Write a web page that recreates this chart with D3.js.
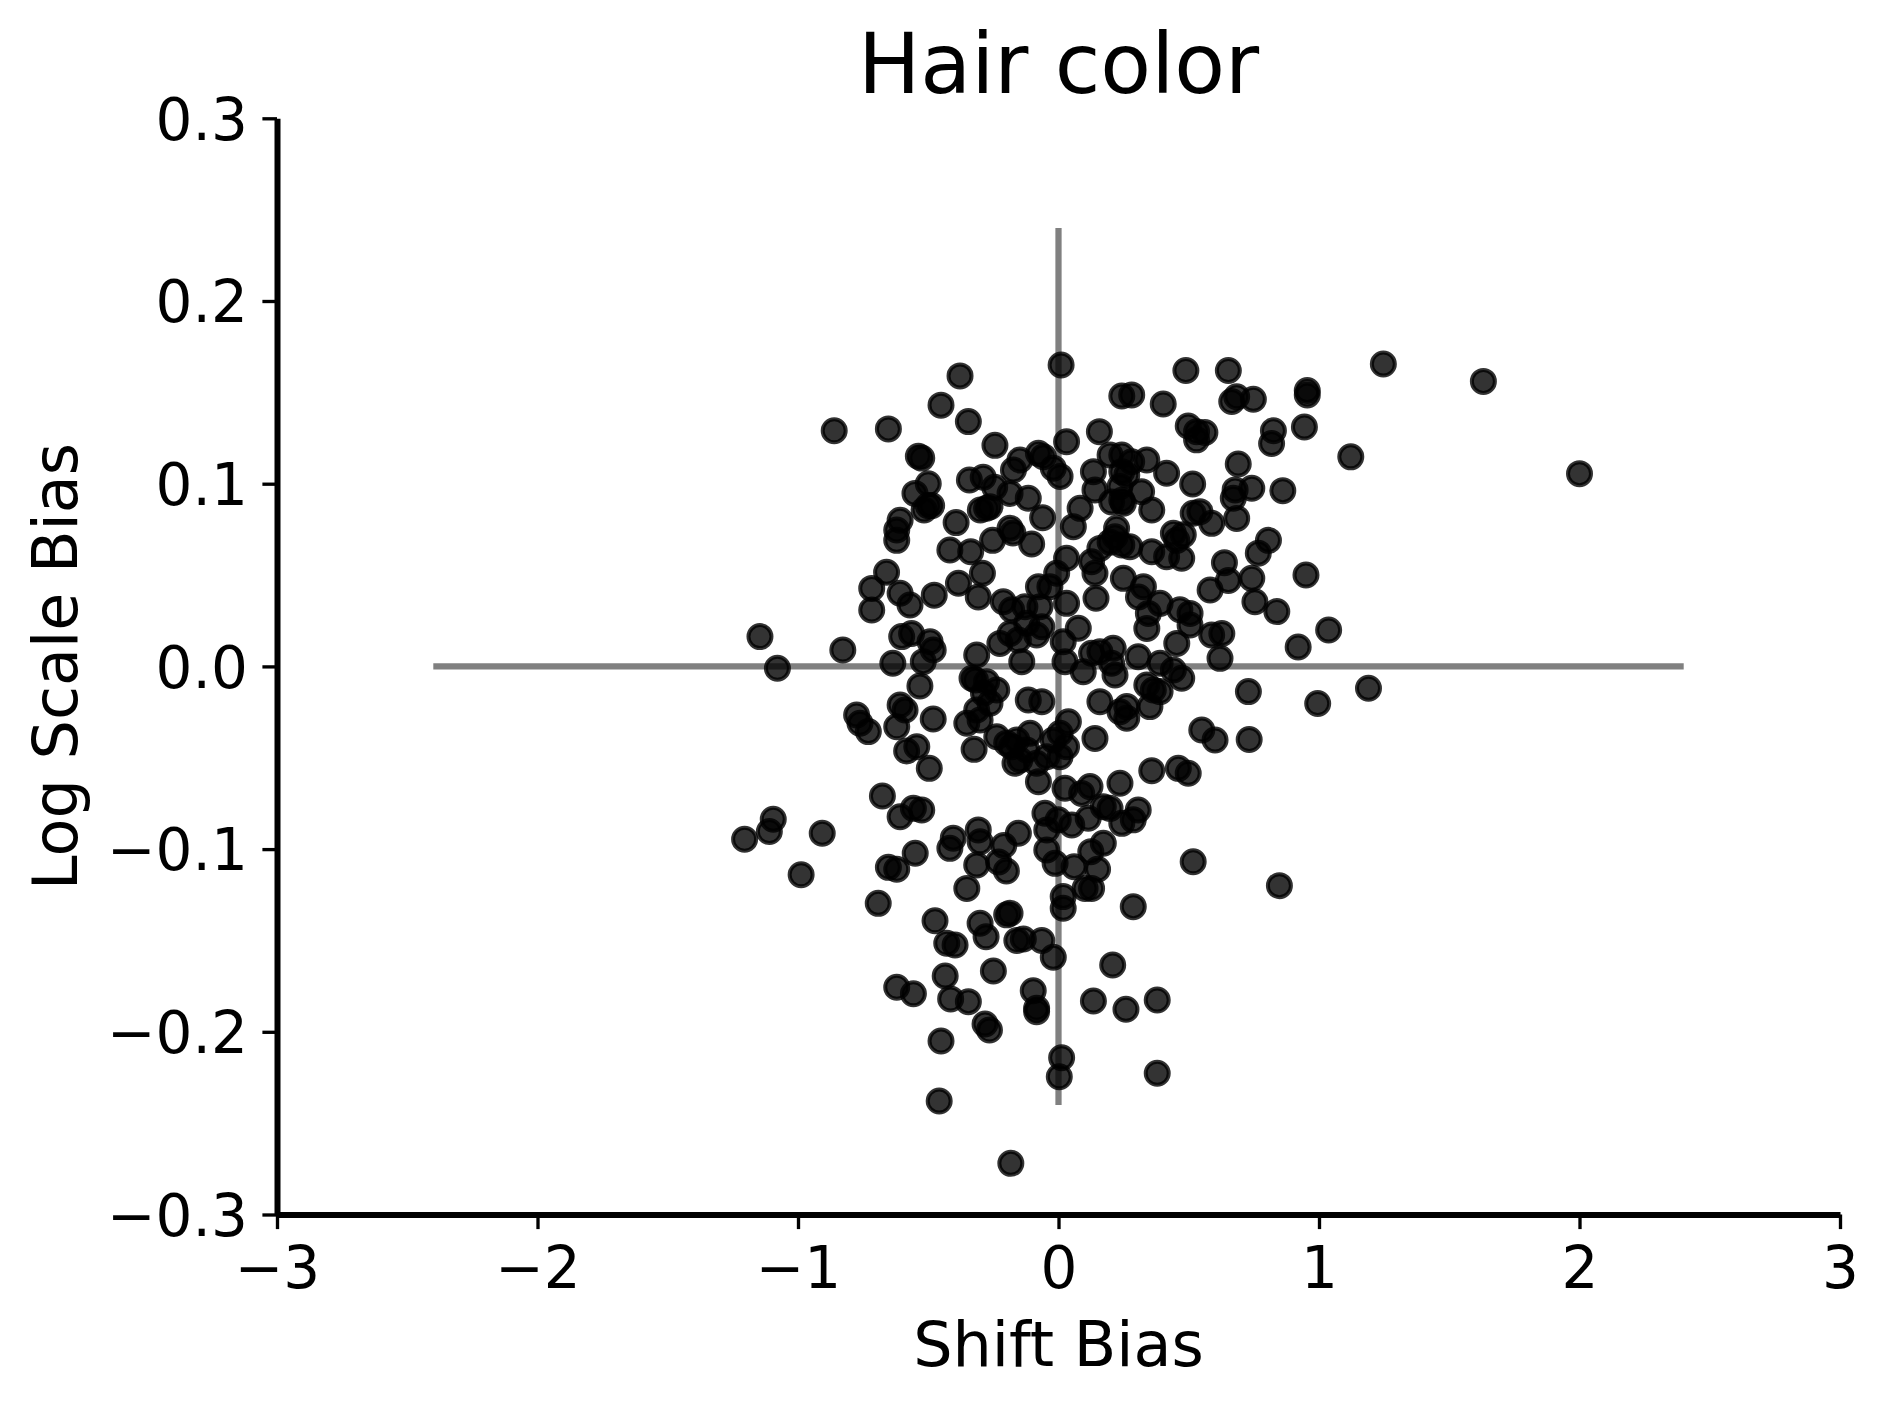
<!DOCTYPE html>
<html>
<head>
<meta charset="utf-8">
<script src="https://cdn.jsdelivr.net/npm/d3@7"></script>
<style>
  body { margin: 0; background: #fff; }
  text { font-family: "DejaVu Sans", sans-serif; fill: #000; }
</style>
</head>
<body>
<script>
const width = 1889;
const height = 1407;

// shift bias (x) and log scale bias (y)
const shiftBias = [
  0.01, 1.247, 1.631, 0.489, 0.652, -0.378, 0.243, 0.281, 0.402, 0.665,
  0.684, 0.748, 0.955, 0.955, -0.451, -0.346, -0.861, -0.653, 0.157, 0.498,
  0.530, 0.562, 0.530, 0.825, 0.818, 0.944, 0.031, -0.244, 1.122, 2.0,
  -0.538, -0.525, -0.148, -0.173, -0.077, -0.058, -0.02, 0.006, 0.198, 0.243,
  0.281, 0.339, 0.134, 0.243, 0.262, 0.415, 0.515, 0.690, 0.140, 0.236,
  0.243, 0.204, 0.249, 0.319, 0.358, 0.083, 0.057, -0.342, -0.289, -0.500,
  -0.551, -0.50, -0.487, -0.516, -0.245, -0.186, -0.116, -0.30, -0.276, -0.263,
  -0.608, -0.621, -0.621, -0.393, -0.186, -0.175, -0.061, -0.417, -0.337, -0.253,
  -0.103, 0.223, 0.217, 0.198, 0.243, 0.159, 0.274, 0.358, 0.415, 0.473,
  0.454, 0.479, 0.441, 0.517, 0.543, 0.588, 0.678, 0.671, 0.742, 0.684,
  0.861, 0.806, 0.767, 0.637, 0.031, 0.127, -0.007, 0.140, 0.950, -0.292,
  -0.660,
  -0.384, -0.717, -0.717, -0.608, -0.570, -0.477, -0.308, -0.212, -0.18, -0.129,
  -0.071, -0.077, -0.033, 0.031, 0.249, 0.326, 0.307, 0.144, 0.390, 0.466,
  0.505, 0.345, 0.582, 0.652, 0.742, 0.754, 0.838, 1.037, 0.92, -1.146,
  -1.079, -0.828, -0.602, -0.564, -0.493, -0.481, -0.636, -0.519, -0.532, -0.314,
  -0.225, -0.186, -0.154, -0.084, -0.064, -0.122, -0.141, 0.076, 0.018, 0.025,
  0.095, 0.127, 0.159, 0.21, 0.217, 0.204, 0.306, 0.339, 0.454, 0.505,
  0.588, 0.627, 0.62, 0.39, 0.441, 0.473,
  0.364, 0.39, 0.351, 0.339, 0.262, 0.262, 0.236, 0.159, -0.116, -0.064,
  0.729, 0.995, 1.19, 0.550, 0.601, 0.732, 0.358, 0.46, 0.498, 0.140,
  0.038, 0.006, -0.02, 0.031, 0.006, -0.045, -0.109, -0.16, -0.18, -0.122,
  -0.148, -0.084, -0.167, -0.332, -0.319, -0.276, -0.237, -0.288, -0.263, -0.314,
  -0.352, -0.301, -0.324, -0.237, -0.199, -0.608, -0.589, -0.621, -0.481, -0.775,
  -0.762, -0.730, -0.583, -0.544, -0.496, -0.077, 0.025, 0.089, 0.121, 0.236,
  -0.676, -0.608, -0.557, -0.525, -0.052, -0.001, 0.051, 0.114, 0.172, 0.198,
  0.243, 0.287, 0.306, -0.045, -1.095, -1.110, -1.205, -0.907, -0.988, -0.653,
  -0.621, -0.55, -0.404, -0.417, -0.308, -0.301, -0.314, -0.21, -0.23, -0.2,
  -0.154, -0.045, -0.013, 0.060, 0.124, 0.172, 0.150, 0.102, 0.127, 0.018,
  0.517, 0.848, 0.287, -0.692, -0.352, -0.474, -0.429, -0.397, -0.301, -0.278,
  -0.199, -0.186, -0.16, 0.018, -0.135, -0.064, -0.02, 0.208, -0.435, -0.25,
  -0.621, -0.557, -0.414, -0.346, -0.097, -0.084, -0.084, 0.134, 0.259, 0.379,
  -0.282, -0.265, -0.451, 0.012, 0.003, 0.379, -0.458, -0.183
];

const logScaleBias = [
  0.165, 0.1655, 0.156, 0.162, 0.162, 0.159, 0.148, 0.1486, 0.1436, 0.145,
  0.1476, 0.1462, 0.151, 0.1486, 0.143, 0.134, 0.129, 0.130, 0.1285, 0.1316,
  0.1285, 0.128, 0.124, 0.129, 0.122, 0.131, 0.123, 0.121, 0.1147, 0.1055,
  0.115, 0.114, 0.113, 0.1075, 0.1166, 0.1148, 0.1085, 0.104, 0.1157, 0.1157,
  0.112, 0.113, 0.1066, 0.1066, 0.1048, 0.1057, 0.0998, 0.1108, 0.0966, 0.0984,
  0.091, 0.090, 0.0893, 0.0956, 0.0856, 0.0865, 0.0765, 0.102, 0.1035, 0.100,
  0.0947, 0.088, 0.088, 0.0856, 0.098, 0.0947, 0.092, 0.0856, 0.0866, 0.0874,
  0.080, 0.0747, 0.069, 0.0787, 0.0756, 0.073, 0.0814, 0.0637, 0.0628, 0.069,
  0.067, 0.0756, 0.071, 0.068, 0.0665, 0.0646, 0.0655, 0.0628, 0.060, 0.0592,
  0.069, 0.072, 0.0729, 0.0838, 0.0847, 0.0783, 0.0966, 0.092, 0.0975, 0.081,
  0.0962, 0.069, 0.062, 0.0568, 0.0592, 0.0573, 0.051, 0.051, 0.050, 0.051,
  0.0515,
  0.0455, 0.0427, 0.0309, 0.040, 0.0336, 0.039, 0.038, 0.0354, 0.031, 0.0327,
  0.0327, 0.0436, 0.0436, 0.0345, 0.0482, 0.0436, 0.038, 0.0373, 0.0345, 0.031,
  0.029, 0.029, 0.0418, 0.047, 0.0482, 0.0354, 0.030, 0.0199, 0.0106, 0.0163,
  -0.001, 0.009, 0.0163, 0.018, 0.0135, 0.009, 0.0017, 0.0026, -0.0107, 0.0062,
  0.0126, 0.018, 0.0145, 0.0172, 0.0217, 0.0236, 0.0026, 0.0209, 0.0135, 0.0026,
  -0.0029, 0.0072, 0.008, 0.0099, -0.0047, 0.0017, 0.0053, 0.0208, 0.0126, 0.0227,
  0.0172, 0.018, 0.0044, 0.0017, -0.002, -0.0065,
  -0.0129, -0.0138, -0.022, -0.0102, -0.022, -0.0284, -0.0248, -0.0193, -0.0184, -0.0193,
  -0.0138, -0.0203, -0.012, -0.0348, -0.0403, -0.040, -0.0571, -0.0558, -0.0585, -0.0394,
  -0.0303, -0.0366, -0.0403, -0.044, -0.0494, -0.0494, -0.0366, -0.0403, -0.044, -0.0458,
  -0.0512, -0.053, -0.053, -0.0065, -0.0074, -0.0084, -0.0129, -0.0147, -0.0202, -0.0239,
  -0.0311, -0.0293, -0.0454, -0.0385, -0.042, -0.0211, -0.0239, -0.033, -0.0288, -0.0266,
  -0.0311, -0.0357, -0.0463, -0.044, -0.0558, -0.0631, -0.0667, -0.0695, -0.0658, -0.064,
  -0.0709, -0.0823, -0.0777, -0.0786, -0.0804, -0.084, -0.0868, -0.0831, -0.0768, -0.0777,
  -0.0859, -0.084, -0.0786, -0.0895, -0.0837, -0.0904, -0.0946, -0.0913, -0.114, -0.110,
  -0.111, -0.1023, -0.094, -0.0996, -0.0895, -0.096, -0.1087, -0.098, -0.107, -0.112,
  -0.0913, -0.1005, -0.1078, -0.1096, -0.1014, -0.0968, -0.111, -0.1215, -0.1215, -0.126,
  -0.1069, -0.120, -0.1315, -0.1297, -0.1215, -0.1392, -0.1515, -0.1525, -0.1406, -0.148,
  -0.136, -0.1351, -0.150, -0.1324, -0.1492, -0.150, -0.1592, -0.1634, -0.1695, -0.1667,
  -0.1756, -0.1792, -0.182, -0.1835, -0.1775, -0.1871, -0.189, -0.1831, -0.1877, -0.1826,
  -0.1957, -0.199, -0.205, -0.2142, -0.2246, -0.2227, -0.2379, -0.272
];

const xTicks = [-3, -2, -1, 0, 1, 2, 3];
const yTicks = [-0.3, -0.2, -0.1, 0.0, 0.1, 0.2, 0.3];
const hLineX = [-2.4, 2.4];   // grey reference line at y = 0
const vLineY = [-0.24, 0.24]; // grey reference line at x = 0

const points = shiftBias.map((d, i) => ({x: d, y: logScaleBias[i]}));

const x = d3.scaleLinear().domain([-3, 3]).range([277, 1840]);
const y = d3.scaleLinear().domain([-0.3, 0.3]).range([1214.5, 118.3]);

const svg = d3.select('body')
    .append('svg')
    .attr('width', width)
    .attr('height', height);

// reference lines
svg.append('line')
    .attr('x1', x(hLineX[0])).attr('x2', x(hLineX[1]))
    .attr('y1', y(0)).attr('y2', y(0))
    .attr('stroke', '#808080')
    .attr('stroke-width', 6.25);

svg.append('line')
    .attr('x1', x(0)).attr('x2', x(0))
    .attr('y1', y(vLineY[0])).attr('y2', y(vLineY[1]))
    .attr('stroke', '#808080')
    .attr('stroke-width', 6.25);

// points
svg.append('g')
    .selectAll('circle')
    .data(points)
    .enter()
    .append('circle')
    .attr('cx', d => x(d.x))
    .attr('cy', d => y(d.y))
    .attr('r', 11.5)
    .attr('fill', '#000')
    .attr('fill-opacity', 0.8)
    .attr('stroke', '#000')
    .attr('stroke-opacity', 0.8)
    .attr('stroke-width', 4);

// axes
const xAxis = d3.axisBottom(x)
    .tickValues(xTicks)
    .tickFormat(d3.format('d'))
    .tickSizeInner(14.6)
    .tickSizeOuter(0)
    .tickPadding(14.6);

const yAxis = d3.axisLeft(y)
    .tickValues(yTicks)
    .tickFormat(d3.format('.1f'))
    .tickSizeInner(14.6)
    .tickSizeOuter(0)
    .tickPadding(14.6);

const gx = svg.append('g')
    .attr('transform', `translate(0,${y(-0.3)})`)
    .call(xAxis);

const gy = svg.append('g')
    .attr('transform', `translate(${x(-3)},0)`)
    .call(yAxis);

[gx, gy].forEach(g => {
    g.select('.domain').attr('stroke', '#000').attr('stroke-width', 6);
    g.selectAll('.tick line').attr('stroke', '#000').attr('stroke-width', 3.33);
    g.selectAll('.tick text')
        .attr('fill', '#000')
        .style('font-family', '"DejaVu Sans", sans-serif')
        .style('font-size', '58px');
});

gx.selectAll('.tick text').attr('dy', '0.76em');
gy.selectAll('.tick text').attr('dy', '0.36em');

// title and labels
svg.append('text')
    .attr('x', (x(-3) + x(3)) / 2)
    .attr('y', 93)
    .attr('text-anchor', 'middle')
    .style('font-size', '83px')
    .text('Hair color');

svg.append('text')
    .attr('x', (x(-3) + x(3)) / 2)
    .attr('y', 1366)
    .attr('text-anchor', 'middle')
    .style('font-size', '62px')
    .text('Shift Bias');

svg.append('text')
    .attr('transform', `translate(77,${(y(-0.3) + y(0.3)) / 2}) rotate(-90)`)
    .attr('text-anchor', 'middle')
    .style('font-size', '62px')
    .text('Log Scale Bias');
</script>
</body>
</html>
